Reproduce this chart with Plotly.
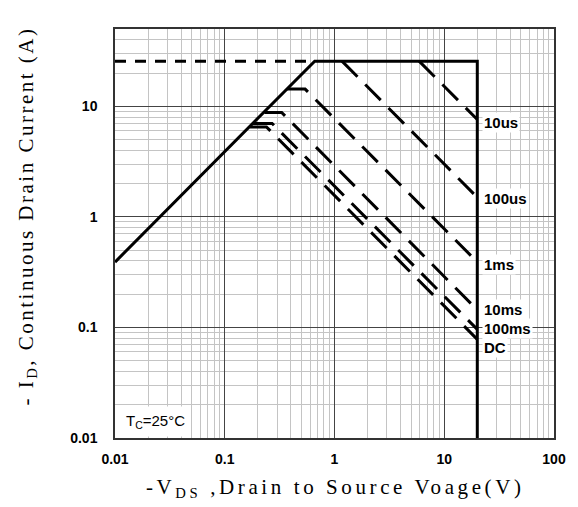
import numpy as np
import plotly.graph_objects as go

# ---- data (V in volts, I in amps) ----
# R_DS(on) limit + current limit + voltage limit (solid boundary)
boundary_v = [0.01, 0.66, 20, 20]
boundary_i = [0.39, 25.6, 25.6, 0.01]
# pulsed current limit (dashed, left part of the top line)
pulse_top_v = [0.01, 0.66]
pulse_top_i = [25.6, 25.6]

# pulse-width curves
labels = ["10us", "100us", "1ms", "10ms", "100ms", "DC"]
v_10us = [5.9, 20]
i_10us = [25.6, 7.6]
v_100us = [1.17, 20]
i_100us = [25.6, 1.5]
v_1ms = [0.37, 0.54, 20]
i_1ms = [14.3, 14.3, 0.39]
v_10ms = [0.23, 0.33, 20]
i_10ms = [8.8, 8.8, 0.144]
v_100ms = [0.18, 0.27, 20]
i_100ms = [7.0, 7.0, 0.096]
v_dc = [0.17, 0.24, 20]
i_dc = [6.5, 6.5, 0.078]
label_i = [7.2, 1.48, 0.374, 0.144, 0.097, 0.0665]

x_tickvals = [0.01, 0.1, 1, 10, 100]
x_ticktext = ["0.01", "0.1", "1", "10", "100"]
y_tickvals = [0.01, 0.1, 1, 10]
y_ticktext = ["0.01", "0.1", "1", "10"]

curves_v = [v_10us, v_100us, v_1ms, v_10ms, v_100ms, v_dc]
curves_i = [i_10us, i_100us, i_1ms, i_10ms, i_100ms, i_dc]

fig = go.Figure()
fig.add_trace(go.Scatter(x=pulse_top_v, y=pulse_top_i, mode="lines",
                         line=dict(color="black", width=3, dash="11px,9px"),
                         showlegend=False, hoverinfo="skip"))
for name, vv, ii in zip(labels, curves_v, curves_i):
    fig.add_trace(go.Scatter(x=vv, y=ii, mode="lines", name=name,
                             line=dict(color="black", width=3, dash="22px,11px"),
                             showlegend=False))
fig.add_trace(go.Scatter(x=boundary_v, y=boundary_i, mode="lines",
                         line=dict(color="black", width=3),
                         showlegend=False))

lab_font = dict(family="Liberation Sans, Arial, sans-serif", size=15,
                color="black", weight="bold")
for name, yi in zip(labels, label_i):
    fig.add_annotation(x=np.log10(20), y=np.log10(yi), xref="x", yref="y",
                       text=name, showarrow=False, xanchor="left",
                       yanchor="middle", xshift=5, font=lab_font,
                       bgcolor="white", borderpad=1)

fig.add_annotation(x=(156 - 115) / 442, y=(438 - 421) / 409, xref="paper",
                   yref="paper", text="T<sub>C</sub>=25°C", showarrow=False,
                   xanchor="center", yanchor="middle",
                   font=dict(family="Liberation Sans, Arial, sans-serif",
                             size=15, color="black"),
                   bgcolor="white", borderpad=5)

title_font = dict(family="Liberation Serif, Times New Roman, serif", size=21,
                  color="black")
fig.add_annotation(x=(337 - 115) / 442, y=-(488 - 438) / 409, xref="paper",
                   yref="paper",
                   text="<span style='letter-spacing:3.6px'>-V<sub>DS</sub> ,Drain to Source Voage(V)</span>",
                   showarrow=False, xanchor="center", yanchor="middle",
                   font=title_font)
fig.add_annotation(x=(26 - 115) / 442, y=(438 - 216) / 409, xref="paper",
                   yref="paper", textangle=-90,
                   text="<span style='letter-spacing:2.5px'>- I<sub>D</sub>, Continuous Drain Current (A)</span>",
                   showarrow=False, xanchor="center", yanchor="middle",
                   font=title_font)

tick_font = dict(family="Liberation Sans, Arial, sans-serif", size=14,
                 color="black", weight="bold")
axis_common = dict(type="log", showgrid=True, gridcolor="#444444", gridwidth=1,
                   showline=True, linecolor="#333333", linewidth=1.5,
                   mirror=True, ticks="", zeroline=False, tickfont=tick_font,
                   minor=dict(showgrid=True, gridcolor="#c4c4c4", gridwidth=1,
                              dtick="D1", ticks=""))
fig.update_xaxes(range=[-2, 2], tickvals=x_tickvals, ticktext=x_ticktext,
                 ticklabelstandoff=7, **axis_common)
fig.update_yaxes(range=[-2, np.log10(50)], tickvals=y_tickvals,
                 ticktext=y_ticktext, ticklabelstandoff=13, **axis_common)

fig.update_layout(width=578, height=507,
                  margin=dict(l=115, r=21, t=29, b=69),
                  plot_bgcolor="white", paper_bgcolor="white",
                  showlegend=False)
fig.write_html("out.html")
